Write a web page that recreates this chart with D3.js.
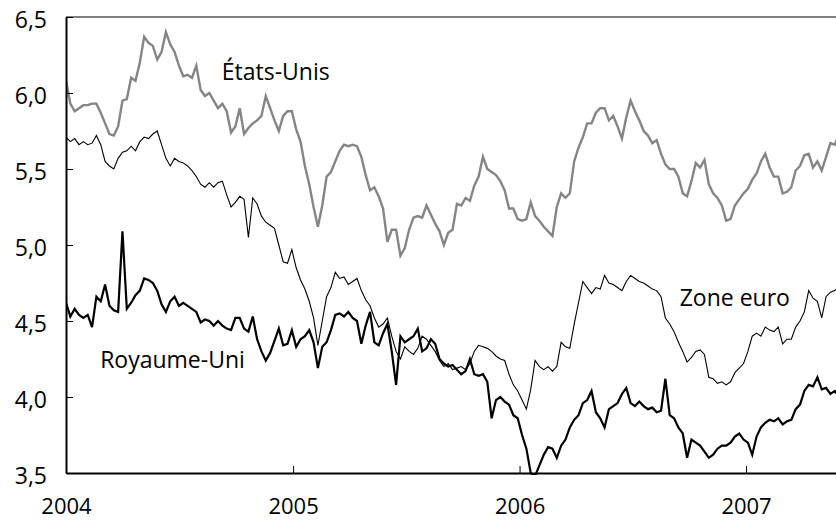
<!DOCTYPE html>
<html>
<head>
<meta charset="utf-8">
<script src="https://cdn.jsdelivr.net/npm/d3@7"></script>
<style>
  html, body { margin: 0; padding: 0; background: #fff; }
  svg { display: block; font-family: "Open Sans", "Noto Sans", sans-serif; }
</style>
</head>
<body>
<svg id="chart" width="836" height="521"></svg>
<script>
// Weekly observations starting 1 January 2004 (one value per week)
const startDate = "2004-01-01";

const etatsUnis = [
  6.08,5.93,5.88,5.90,5.92,5.92,5.93,5.93,5.87,5.80,5.73,5.72,5.78,5.95,5.96,6.10,6.08,6.20,6.37,6.33,
  6.31,6.22,6.27,6.40,6.32,6.27,6.18,6.11,6.12,6.10,6.18,6.02,5.98,6.00,5.95,5.90,5.93,5.88,5.74,5.78,
  5.90,5.73,5.77,5.80,5.82,5.85,5.98,5.90,5.82,5.75,5.85,5.88,5.88,5.76,5.68,5.52,5.40,5.25,5.12,5.26,
  5.45,5.48,5.55,5.62,5.66,5.65,5.66,5.65,5.58,5.46,5.36,5.38,5.32,5.24,5.02,5.10,5.10,4.93,4.98,5.10,
  5.18,5.19,5.18,5.26,5.20,5.14,5.09,5.00,5.08,5.10,5.27,5.26,5.31,5.29,5.39,5.45,5.58,5.50,5.48,5.46,
  5.42,5.36,5.24,5.24,5.17,5.16,5.17,5.28,5.19,5.16,5.12,5.09,5.06,5.25,5.34,5.31,5.34,5.55,5.64,5.71,
  5.80,5.80,5.87,5.90,5.90,5.82,5.85,5.78,5.70,5.84,5.95,5.88,5.82,5.75,5.72,5.67,5.69,5.60,5.53,5.50,
  5.50,5.45,5.34,5.32,5.42,5.54,5.51,5.56,5.40,5.34,5.31,5.26,5.16,5.17,5.26,5.30,5.34,5.37,5.43,5.47,
  5.55,5.60,5.51,5.45,5.45,5.34,5.35,5.38,5.49,5.52,5.59,5.60,5.51,5.55,5.49,5.58,5.67,5.66,5.73
];

const zoneEuro = [
  5.71,5.68,5.70,5.66,5.68,5.66,5.67,5.72,5.66,5.55,5.52,5.50,5.57,5.61,5.62,5.65,5.62,5.68,5.71,5.70,
  5.73,5.75,5.66,5.57,5.52,5.57,5.55,5.54,5.52,5.49,5.45,5.40,5.38,5.41,5.38,5.41,5.42,5.33,5.25,5.28,
  5.32,5.30,5.05,5.31,5.27,5.19,5.15,5.13,5.11,5.00,4.89,4.88,4.97,4.85,4.77,4.71,4.63,4.52,4.34,4.50,
  4.66,4.72,4.82,4.78,4.79,4.74,4.76,4.78,4.70,4.64,4.60,4.52,4.46,4.48,4.52,4.40,4.30,4.25,4.33,4.30,
  4.28,4.32,4.40,4.38,4.34,4.30,4.24,4.20,4.22,4.18,4.19,4.20,4.18,4.22,4.30,4.34,4.33,4.32,4.30,4.27,
  4.25,4.24,4.15,4.08,4.04,3.98,3.92,4.05,4.24,4.20,4.18,4.20,4.17,4.20,4.36,4.33,4.32,4.48,4.62,4.76,
  4.72,4.68,4.72,4.71,4.80,4.75,4.74,4.72,4.70,4.76,4.80,4.78,4.76,4.75,4.73,4.71,4.70,4.66,4.52,4.48,
  4.43,4.36,4.30,4.23,4.26,4.30,4.31,4.28,4.13,4.12,4.09,4.10,4.08,4.10,4.16,4.19,4.22,4.30,4.40,4.42,
  4.40,4.46,4.44,4.43,4.46,4.35,4.38,4.38,4.46,4.50,4.56,4.70,4.65,4.63,4.52,4.66,4.69,4.70,4.73
];

const royaumeUni = [
  4.62,4.53,4.58,4.54,4.52,4.54,4.46,4.66,4.63,4.74,4.60,4.57,4.56,5.09,4.58,4.62,4.67,4.70,4.78,4.77,
  4.75,4.70,4.61,4.56,4.63,4.66,4.60,4.62,4.60,4.58,4.56,4.49,4.51,4.50,4.47,4.50,4.47,4.45,4.44,4.52,
  4.52,4.45,4.43,4.53,4.38,4.30,4.24,4.29,4.37,4.45,4.34,4.35,4.44,4.33,4.38,4.40,4.44,4.36,4.19,4.33,
  4.36,4.44,4.54,4.55,4.53,4.56,4.52,4.50,4.35,4.47,4.56,4.36,4.34,4.42,4.48,4.30,4.08,4.40,4.36,4.38,
  4.40,4.45,4.30,4.32,4.38,4.35,4.25,4.22,4.20,4.21,4.18,4.15,4.17,4.25,4.15,4.14,4.15,4.10,3.86,3.98,
  4.00,3.97,3.95,3.88,3.86,3.75,3.66,3.50,3.48,3.55,3.62,3.67,3.66,3.60,3.68,3.72,3.80,3.85,3.88,3.96,
  3.98,4.04,3.90,3.86,3.80,3.92,3.94,3.96,4.02,4.06,3.96,3.94,3.97,3.94,3.92,3.93,3.90,3.91,4.12,3.88,
  3.86,3.80,3.76,3.60,3.72,3.70,3.68,3.64,3.60,3.62,3.66,3.68,3.68,3.70,3.74,3.76,3.72,3.70,3.62,3.74,
  3.80,3.83,3.85,3.84,3.86,3.82,3.84,3.85,3.92,3.95,4.04,4.08,4.07,4.13,4.05,4.06,4.02,4.04,4.00
];

const yTicks = [3.5, 4.0, 4.5, 5.0, 5.5, 6.0, 6.5];
const yTickLabels = ["3,5", "4,0", "4,5", "5,0", "5,5", "6,0", "6,5"];
const xTickYears = [2004, 2005, 2006, 2007];
const seriesLabels = ["États-Unis", "Zone euro", "Royaume-Uni"];

// ---- layout ----
const mLeft = 66, mRight = 836, mTop = 17, mBottom = 473;
const fontSize = 23;

const parse = d3.timeParse("%Y-%m-%d");
const t0 = parse(startDate);
const dates = etatsUnis.map((_, i) => d3.timeDay.offset(t0, 7 * i));

const x = d3.scaleTime()
  .domain([parse("2004-01-01"), parse("2007-05-26")])
  .range([mLeft, mRight]);
const y = d3.scaleLinear().domain([3.5, 6.5]).range([mBottom, mTop]);

const svg = d3.select("#chart");

svg.append("defs").append("clipPath").attr("id", "plotclip")
  .append("rect").attr("x", mLeft).attr("y", mTop - 1)
  .attr("width", mRight - mLeft).attr("height", mBottom - mTop + 3);

const line = d3.line()
  .x((d, i) => x(dates[i]))
  .y(d => y(d));

const g = svg.append("g").attr("clip-path", "url(#plotclip)");

g.append("path").datum(etatsUnis)
  .attr("d", line).attr("fill", "none")
  .attr("stroke", "#858585").attr("stroke-width", 2.4)
  .attr("stroke-linejoin", "miter");

g.append("path").datum(zoneEuro)
  .attr("d", line).attr("fill", "none")
  .attr("stroke", "#000").attr("stroke-width", 1.1)
  .attr("stroke-linejoin", "miter");

g.append("path").datum(royaumeUni)
  .attr("d", line).attr("fill", "none")
  .attr("stroke", "#000").attr("stroke-width", 2.2)
  .attr("stroke-linejoin", "miter");

// top frame line
svg.append("line")
  .attr("x1", mLeft).attr("x2", mRight)
  .attr("y1", mTop).attr("y2", mTop)
  .attr("stroke", "#555").attr("stroke-width", 1.5);

// Y axis
const yAxis = d3.axisLeft(y)
  .tickValues(yTicks)
  .tickSizeInner(-7)
  .tickSizeOuter(0)
  .tickPadding(19)
  .tickFormat((d, i) => yTickLabels[i]);

const gy = svg.append("g").attr("transform", `translate(${mLeft},0)`).call(yAxis);
gy.select(".domain").attr("stroke", "#000").attr("stroke-width", 2);
gy.selectAll(".tick line").attr("stroke", "#000").attr("stroke-width", 1);
gy.selectAll(".tick text")
  .attr("font-size", fontSize).attr("fill", "#000")
  .attr("font-family", "'Open Sans', sans-serif")
  .attr("dy", "0.45em");

// X axis
const xAxis = d3.axisBottom(x)
  .tickValues(xTickYears.map(yr => new Date(yr, 0, 1)))
  .tickSizeInner(-7)
  .tickSizeOuter(0)
  .tickPadding(25)
  .tickFormat(d3.timeFormat("%Y"));

const gx = svg.append("g").attr("transform", `translate(0,${mBottom})`).call(xAxis);
gx.select(".domain").attr("stroke", "#000").attr("stroke-width", 2);
gx.selectAll(".tick line").attr("stroke", "#000").attr("stroke-width", 1);
gx.selectAll(".tick text")
  .attr("font-size", 22).attr("fill", "#000")
  .attr("font-family", "'Open Sans', sans-serif");

// series labels
const labelPos = [
  { v: 6.085, d: "2004-09-08" },
  { v: 4.60, d: "2006-09-16" },
  { v: 4.19, d: "2004-02-25" }
];
svg.selectAll("text.serie").data(seriesLabels).enter()
  .append("text").attr("class", "serie")
  .attr("x", (d, i) => x(parse(labelPos[i].d)))
  .attr("y", (d, i) => y(labelPos[i].v))
  .attr("text-anchor", "start")
  .attr("font-size", fontSize)
  .attr("fill", "#000")
  .text(d => d);
</script>
</body>
</html>
